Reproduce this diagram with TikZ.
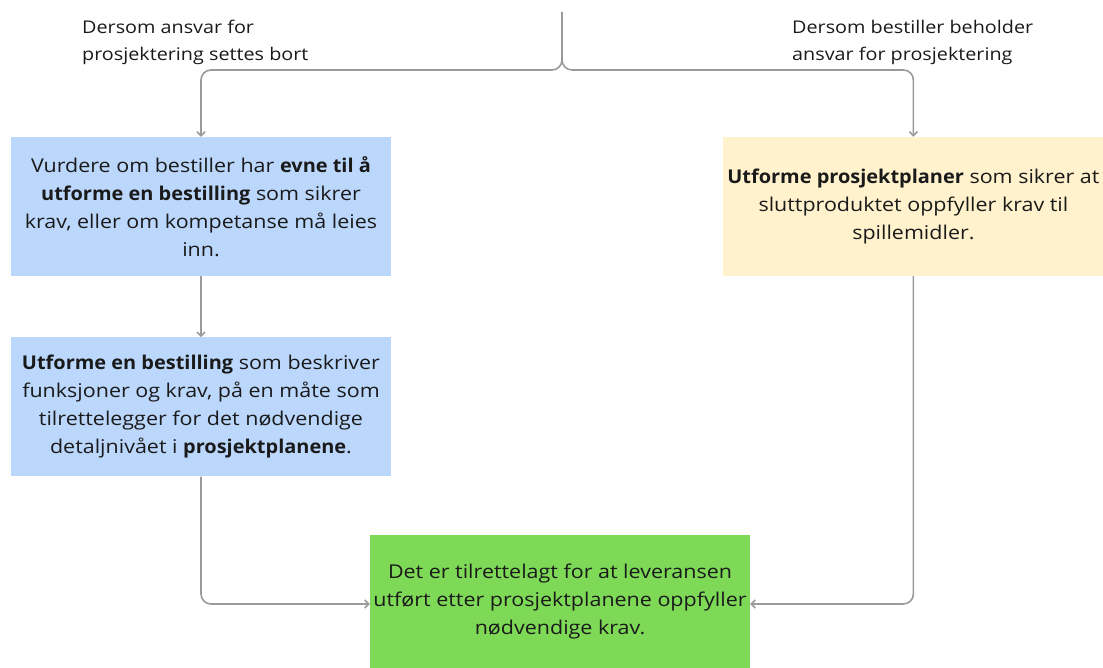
\documentclass[tikz,border=0pt]{standalone}
\usepackage{fontspec}
\setmainfont{Open Sans}[FakeStretch=1.13, BoldFeatures={FakeStretch=1.05}]
\usetikzlibrary{positioning,arrows.meta}

\definecolor{taskblue}{HTML}{BBD7FC}
\definecolor{taskyellow}{HTML}{FFF2CC}
\definecolor{taskgreen}{HTML}{7ED957}
\definecolor{flowgray}{HTML}{9A9A9A}
\definecolor{textblack}{HTML}{1A1A1A}

\begin{document}
\begin{tikzpicture}[
	x=1pt, y=1pt,
	task/.style={
		shape=rectangle,
		minimum width=380pt,
		inner sep=0pt,
		align=center,
		text=textblack,
	},
	bluetask/.style={
		task,
		fill=taskblue,
		minimum height=139pt,
	},
	yellowtask/.style={
		task,
		fill=taskyellow,
		minimum height=139pt,
	},
	result/.style={
		task,
		fill=taskgreen,
		minimum height=133pt,
	},
	choice/.style={
		align=left,
		anchor=north west,
		inner sep=0pt,
		text=textblack,
		font=\fontsize{17.5}{27}\selectfont,
	},
	flow/.style={
		draw=flowgray,
		line width=1.6pt,
		rounded corners=10pt,
	},
	>={Straight Barb[length=4pt,width=8pt]},
	font=\fontsize{19}{28}\selectfont,
	node distance=61pt,
]
\useasboundingbox (0,0) rectangle (1103,668);

\node (assess) [bluetask] at (201,461.5) {Vurdere om bestiller har \textbf{evne til å}\\ \textbf{utforme en bestilling} som sikrer\\ krav, eller om kompetanse må leies\\ inn.};
\node (order) [bluetask, below=of assess] {\textbf{Utforme en bestilling} som beskriver\\ funksjoner og krav, på en måte som\\ tilrettelegger for det nødvendige\\ detaljnivået i \textbf{prosjektplanene}.};
\node (plans) [yellowtask, right=332pt of assess] {\textbf{Utforme prosjektplaner} som sikrer at\\ sluttproduktet oppfyller krav til\\ spillemidler.};
\node (done) [result] at (560,66.5) {Det er tilrettelagt for at leveransen\\ utført etter prosjektplanene oppfyller\\ nødvendige krav.};

\node (outsourced) [choice] at (82,648) {Dersom ansvar for\\ prosjektering settes bort};
\node (kept) [choice] at (792,648) {Dersom bestiller beholder\\ ansvar for prosjektering};

\coordinate (start) at (562,656);
\coordinate (split) at (562,598);

% split into the two cases
\draw[flow, ->] (start) -- (split) -| (assess.north);
\draw[flow, ->] (start) -- (split) -| (plans.north);

\draw[flow, ->] (assess) -- (order);
\draw[flow, ->] (order.south) |- ([yshift=-2.5pt]done.west);
\draw[flow, ->] (plans.south) |- ([yshift=-2.5pt]done.east);
\end{tikzpicture}
\end{document}
